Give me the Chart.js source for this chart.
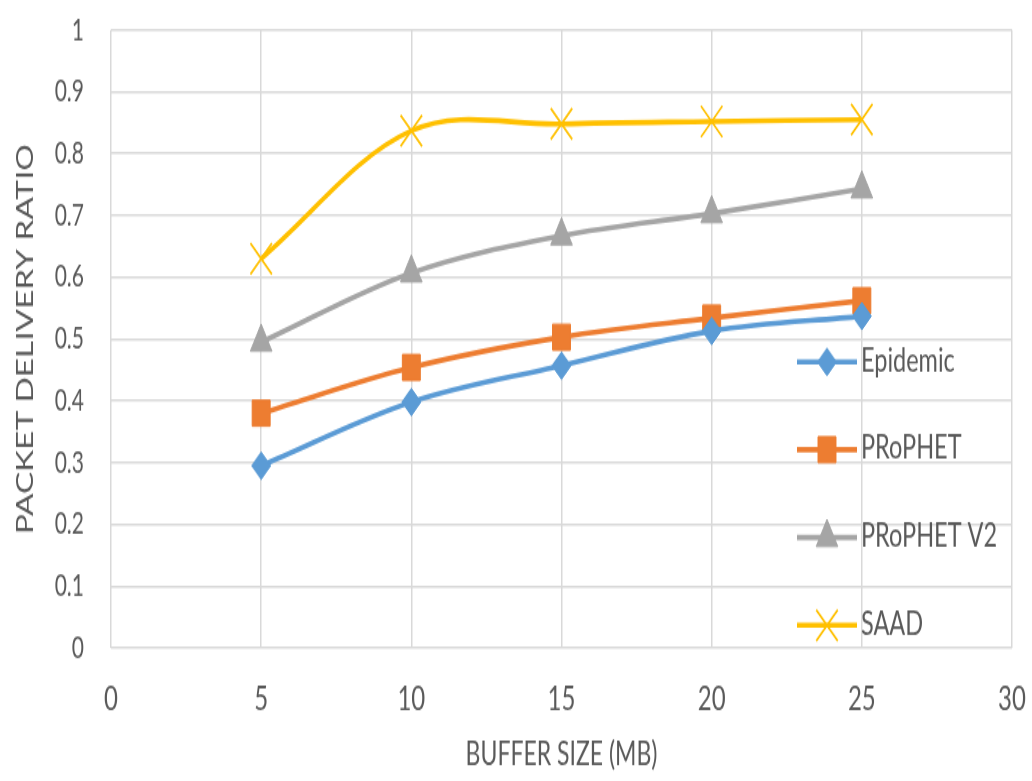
<!DOCTYPE html>
<html>
<head>
<meta charset="utf-8">
<title>Packet Delivery Ratio vs Buffer Size</title>
<script src="https://cdn.jsdelivr.net/npm/chart.js@4/dist/chart.umd.min.js"></script>
<style>
  html, body { margin: 0; padding: 0; background: #ffffff; }
</style>
</head>
<body>
<!-- Drawing surface is rendered short and shown tall, giving the tall, narrow look of the figure -->
<canvas id="pdr" width="1032" height="540" style="display:block;width:1032px;height:781px"></canvas>
<script>
// Buffer sizes (MB) on the x axis
const bufferSizes = [5, 10, 15, 20, 25];

// Packet delivery ratio per routing protocol
const epidemic  = [0.295, 0.398, 0.457, 0.513, 0.537];
const prophet   = [0.380, 0.454, 0.503, 0.534, 0.562];
const prophetV2 = [0.495, 0.607, 0.667, 0.703, 0.743];
const saad      = [0.630, 0.837, 0.848, 0.852, 0.855];

const seriesNames = ['Epidemic', 'PRoPHET', 'PRoPHET V2', 'SAAD'];

const xTitle = 'BUFFER SIZE (MB)';
const yTitle = 'PACKET DELIVERY RATIO';

const CANVAS_H = 540;
const STRETCH = 781 / CANVAS_H;
const AREA_TOP = 30 / STRETCH;
const AREA_BOTTOM = 648 / STRETCH;

const TEXT = '#595959';
const GRID = '#d9d9d9';
const FONT = 'Lato, "Open Sans", "Liberation Sans", sans-serif';

function points(values) {
  return bufferSizes.map((x, i) => ({ x: x, y: values[i] }));
}

const styles = [
  { color: '#5B9BD5', pointStyle: 'rectRot',  radius: 9.5,  borderWidth: 1 },
  { color: '#ED7D31', pointStyle: 'rect',     radius: 12.7, borderWidth: 1 },
  { color: '#A5A5A5', pointStyle: 'triangle', radius: 12.5, borderWidth: 1 },
  { color: '#FFC000', pointStyle: 'crossRot', radius: 15.2, borderWidth: 1.7 }
];

const seriesValues = [epidemic, prophet, prophetV2, saad];

const datasets = seriesValues.map((vals, i) => ({
  label: seriesNames[i],
  data: points(vals),
  borderColor: styles[i].color,
  backgroundColor: styles[i].color,
  borderWidth: 3.6,
  tension: 0.35,
  pointStyle: styles[i].pointStyle,
  pointRadius: styles[i].radius,
  pointHoverRadius: styles[i].radius,
  pointBorderWidth: styles[i].borderWidth,
  pointBackgroundColor: styles[i].color,
  pointBorderColor: styles[i].color
}));

// Legend drawn over the right side of the plot, one row per series
const sideLegend = {
  id: 'sideLegend',
  afterDatasetsDraw(chart, args, opts) {
    const ctx = chart.ctx;
    ctx.save();
    chart.data.datasets.forEach((ds, i) => {
      const y = opts.top + i * opts.spacing;
      ctx.strokeStyle = ds.borderColor;
      ctx.lineWidth = ds.borderWidth;
      ctx.beginPath();
      ctx.moveTo(opts.lineStart, y);
      ctx.lineTo(opts.lineEnd, y);
      ctx.stroke();
      ctx.fillStyle = ds.pointBackgroundColor;
      ctx.strokeStyle = ds.pointBorderColor;
      ctx.lineWidth = ds.pointBorderWidth;
      Chart.helpers.drawPoint(ctx, {
        pointStyle: ds.pointStyle,
        rotation: 0,
        radius: ds.pointRadius,
        borderWidth: ds.pointBorderWidth
      }, (opts.lineStart + opts.lineEnd) / 2, y);
      ctx.fillStyle = TEXT;
      ctx.font = opts.font;
      ctx.textAlign = 'left';
      ctx.textBaseline = 'middle';
      ctx.fillText(ds.label, opts.textX, y - 1);
    });
    ctx.restore();
  }
};

new Chart(document.getElementById('pdr'), {
  type: 'line',
  data: { datasets: datasets },
  plugins: [sideLegend],
  options: {
    responsive: false,
    animation: false,
    devicePixelRatio: 1,
    layout: { padding: { top: AREA_TOP, right: 20, left: 0, bottom: 0 } },
    plugins: {
      legend: { display: false },
      tooltip: { enabled: false },
      sideLegend: {
        top: 250.2,
        spacing: 60.7,
        lineStart: 797,
        lineEnd: 857,
        textX: 861,
        font: '23.5px ' + FONT
      }
    },
    scales: {
      x: {
        type: 'linear',
        min: 0,
        max: 30,
        ticks: {
          stepSize: 5,
          color: TEXT,
          padding: 21,
          font: { family: FONT, size: 24 }
        },
        grid: { color: GRID, lineWidth: 1.5, drawTicks: false },
        border: { display: false },
        title: {
          display: true,
          text: xTitle,
          color: TEXT,
          font: { family: FONT, size: 23 },
          padding: { top: 0, bottom: 5 }
        },
        afterFit(scale) {
          scale.height = CANVAS_H - AREA_BOTTOM;
          scale.paddingLeft = 0;
          scale.paddingRight = 0;
        }
      },
      y: {
        min: 0,
        max: 1,
        ticks: {
          stepSize: 0.1,
          color: TEXT,
          padding: 27,
          font: { family: FONT, size: 21 },
          callback: (v) => String(+v.toFixed(1))
        },
        grid: { color: GRID, lineWidth: 1.5, drawTicks: false },
        border: { display: false },
        title: {
          display: true,
          text: yTitle,
          color: TEXT,
          font: { family: FONT, size: 23 },
          padding: { top: 12, bottom: 0 }
        },
        afterFit(scale) {
          scale.width = 111;
          scale.paddingTop = 0;
          scale.paddingBottom = 0;
        }
      }
    }
  }
});
</script>
</body>
</html>
